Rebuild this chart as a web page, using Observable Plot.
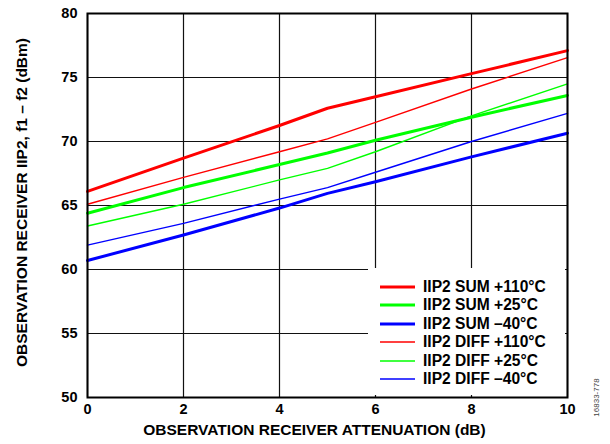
<!DOCTYPE html>
<html><head><meta charset="utf-8">
<script src="https://cdn.jsdelivr.net/npm/d3@7"></script>
<script src="https://cdn.jsdelivr.net/npm/@observablehq/plot@0.6"></script>
<style>
body{margin:0;background:#fff;font-family:"Liberation Sans",Arial,sans-serif;}
#wrap{position:relative;width:610px;height:444px;overflow:hidden;}
#legend{position:absolute;left:368px;top:268px;width:197px;height:127px;background:#fff;padding-top:9.5px;box-sizing:border-box;}
.row{height:18.5px;display:flex;align-items:center;}
.sw{margin-left:12px;width:35px;}
.lab{margin-left:8px;font-weight:bold;font-size:15.6px;color:#000;white-space:nowrap;line-height:18.5px;}
</style></head><body><div id="wrap"></div>
<script>
const attenuation = [0, 2, 4, 5, 6, 8, 10];
const sum110 = [66.1, 68.7, 71.25, 72.6, 73.5, 75.3, 77.1];
const sum25 = [64.4, 66.4, 68.2, 69.1, 70.1, 71.9, 73.6];
const sumM40 = [60.7, 62.7, 64.8, 65.95, 66.85, 68.8, 70.65];
const diff110 = [65.1, 67.2, 69.2, 70.2, 71.5, 74.1, 76.55];
const diff25 = [63.4, 65.1, 67.0, 67.9, 69.2, 72.0, 74.5];
const diffM40 = [61.9, 63.6, 65.5, 66.4, 67.6, 70.0, 72.2];

const seriesNames = ["IIP2 SUM +110°C", "IIP2 SUM +25°C", "IIP2 SUM \u201340°C", "IIP2 DIFF +110°C", "IIP2 DIFF +25°C", "IIP2 DIFF \u201340°C"];
const seriesValues = [sum110, sum25, sumM40, diff110, diff25, diffM40];
const seriesColors = ["#ff0000", "#00ff00", "#0000ff", "#ff0000", "#00ff00", "#0000ff"];
const seriesWidths = [3, 3, 3, 1.4, 1.4, 1.4];

const xTicks = [0, 2, 4, 6, 8, 10];
const yTicks = [50, 55, 60, 65, 70, 75, 80];
const xTitle = "OBSERVATION RECEIVER ATTENUATION (dB)";
const yTitle = "OBSERVATION RECEIVER IIP2, f1 \u2013 f2 (dBm)";
const figId = "16833-778";

const font = "'Liberation Sans', Arial, sans-serif";

const lineMarks = seriesValues.map((vals, i) =>
  Plot.line(attenuation.map((x, j) => ({x, y: vals[j]})), {
    x: "x", y: "y", stroke: seriesColors[i], strokeWidth: seriesWidths[i]
  })
);

const chart = Plot.plot({
  width: 610, height: 444,
  marginLeft: 87, marginRight: 43, marginTop: 13, marginBottom: 47,
  style: {fontFamily: font, color: "#000", background: "#fff"},
  x: {domain: [0, 10]},
  y: {domain: [50, 80]},
  marks: [
    Plot.gridX(xTicks, {stroke: "#111", strokeOpacity: 1, strokeWidth: 1.2}),
    Plot.gridY(yTicks, {stroke: "#111", strokeOpacity: 1, strokeWidth: 1.2}),
    Plot.axisX({ticks: xTicks, tickSize: 0, tickPadding: 6, label: null, fontSize: 14.5, fontWeight: "bold", tickFormat: d => String(d)}),
    Plot.axisY({ticks: yTicks, tickSize: 0, tickPadding: 10, label: null, fontSize: 14.5, fontWeight: "bold", tickFormat: d => String(d)}),
    ...lineMarks,
    Plot.frame({stroke: "#000", strokeWidth: 2}),
    Plot.text([xTitle], {text: d => d, frameAnchor: "bottom", textAnchor: "middle", lineAnchor: "middle", dx: -13, dy: 33, fontSize: 15.5, fontWeight: "bold", fill: "#000"}),
    Plot.text([yTitle], {text: d => d, frameAnchor: "left", textAnchor: "middle", dx: -65, dy: -3, rotate: -90, fontSize: 15.5, fontWeight: "bold", fill: "#000"}),
    Plot.text([figId], {text: d => d, frameAnchor: "bottom-right", textAnchor: "middle", dx: 31, dy: 0, rotate: -90, fontSize: 8, fill: "#444"})
  ]
});

const wrap = document.getElementById("wrap");
wrap.appendChild(chart);

const legend = document.createElement("div");
legend.id = "legend";
seriesNames.forEach((name, i) => {
  const row = document.createElement("div");
  row.className = "row";
  const sw = document.createElementNS("http://www.w3.org/2000/svg", "svg");
  sw.setAttribute("class", "sw");
  sw.setAttribute("width", 35);
  sw.setAttribute("height", 6);
  const ln = document.createElementNS("http://www.w3.org/2000/svg", "line");
  ln.setAttribute("x1", 0); ln.setAttribute("x2", 35);
  ln.setAttribute("y1", 3); ln.setAttribute("y2", 3);
  ln.setAttribute("stroke", seriesColors[i]);
  ln.setAttribute("stroke-width", seriesWidths[i]);
  sw.appendChild(ln);
  const lab = document.createElement("span");
  lab.className = "lab";
  lab.textContent = name;
  row.appendChild(sw);
  row.appendChild(lab);
  legend.appendChild(row);
});
wrap.appendChild(legend);
</script>
</body></html>
